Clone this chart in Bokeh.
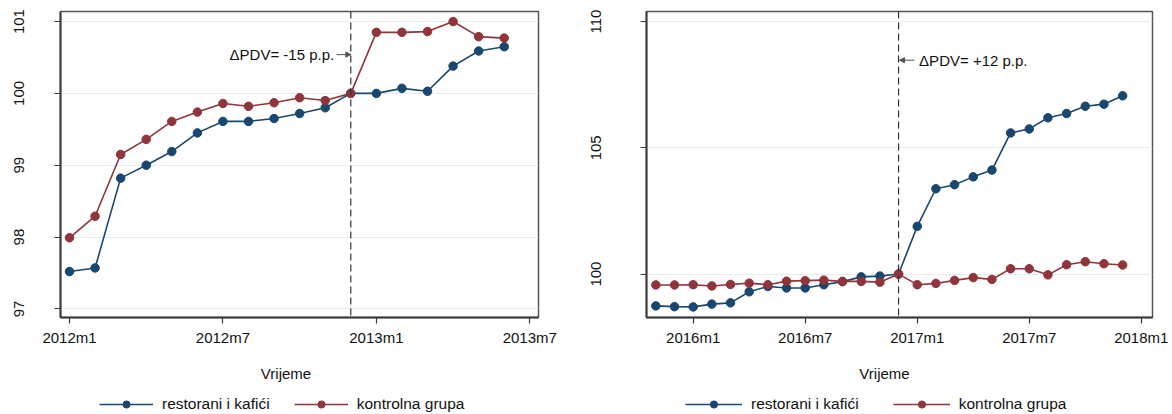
from bokeh.plotting import figure
from bokeh.layouts import row, column
from bokeh.models import (ColumnDataSource, FixedTicker, Span, Label, Legend,
                          LegendItem, Arrow, NormalHead, Range1d)
from bokeh.embed import file_html
from bokeh.resources import INLINE

# ---------------- data ----------------
left_periods = ["2012m1", "2012m2", "2012m3", "2012m4", "2012m5", "2012m6",
                "2012m7", "2012m8", "2012m9", "2012m10", "2012m11", "2012m12",
                "2013m1", "2013m2", "2013m3", "2013m4", "2013m5", "2013m6"]
left_restorani = [97.52, 97.57, 98.82, 99.00, 99.19, 99.45, 99.61, 99.61, 99.65,
                  99.72, 99.80, 100.00, 100.00, 100.07, 100.03, 100.38, 100.59, 100.65]
left_kontrolna = [97.99, 98.29, 99.15, 99.36, 99.61, 99.74, 99.86, 99.82, 99.87,
                  99.94, 99.90, 100.00, 100.85, 100.85, 100.86, 101.00, 100.79, 100.77]
left_xticks = ["2012m1", "2012m7", "2013m1", "2013m7"]
left_yticks = [97, 98, 99, 100, 101]
left_event = "2012m12"
left_note = "ΔPDV= -15 p.p."

right_periods = ["2015m11", "2015m12",
                 "2016m1", "2016m2", "2016m3", "2016m4", "2016m5", "2016m6",
                 "2016m7", "2016m8", "2016m9", "2016m10", "2016m11", "2016m12",
                 "2017m1", "2017m2", "2017m3", "2017m4", "2017m5", "2017m6",
                 "2017m7", "2017m8", "2017m9", "2017m10", "2017m11", "2017m12"]
right_restorani = [98.74, 98.71, 98.70, 98.81, 98.86, 99.30, 99.51, 99.45, 99.45,
                   99.58, 99.70, 99.89, 99.92, 100.00, 101.89, 103.38, 103.54, 103.85,
                   104.12, 105.59, 105.75, 106.19, 106.36, 106.65, 106.73, 107.06]
right_kontrolna = [99.57, 99.57, 99.58, 99.53, 99.59, 99.64, 99.58, 99.72, 99.74,
                   99.76, 99.71, 99.71, 99.68, 100.00, 99.58, 99.63, 99.75, 99.86,
                   99.79, 100.21, 100.21, 99.97, 100.37, 100.49, 100.41, 100.36]
right_xticks = ["2016m1", "2016m7", "2017m1", "2017m7", "2018m1"]
right_yticks = [100, 105, 110]
right_event = "2016m12"
right_note = "ΔPDV= +12 p.p."

series_names = ["restorani i kafići", "kontrolna grupa"]
x_title = "Vrijeme"

NAVY = "#1a476f"
MAROON = "#90353b"
FONT = "Liberation Sans"
TXT = "#111111"
W = 586
H_PLOT = 355
H_FOOT = 59
NAN = float("nan")


def month_index(label, base):
    y, m = label.split("m")
    by, bm = base.split("m")
    return (int(y) - int(by)) * 12 + (int(m) - int(bm))


def make_panel(periods, s1, s2, xticks, yticks, event, note, note_side,
               xr, yr, mbl, mbr, y_standoff, note_y, title_x, legend_x,
               spacing, glyph_w):
    base = xticks[0]
    xs = [month_index(p, base) for p in periods]
    p = figure(width=W, height=H_PLOT, x_range=xr, y_range=yr,
               output_backend="svg", toolbar_location=None,
               min_border_left=mbl, min_border_right=mbr, min_border_top=11,
               min_border_bottom=H_PLOT - 11 - 306, background_fill_color="white",
               border_fill_color="white")
    p.outline_line_color = "#555555"
    p.outline_line_width = 1.5
    p.xgrid.visible = False
    p.ygrid.grid_line_color = "#e4edef"
    p.ygrid.grid_line_width = 1.2

    tick_pos = [month_index(t, base) for t in xticks]
    p.xaxis.ticker = FixedTicker(ticks=tick_pos)
    p.xaxis.major_label_overrides = {tp: t for tp, t in zip(tick_pos, xticks)}
    p.yaxis.ticker = FixedTicker(ticks=yticks)
    p.yaxis.major_label_overrides = {v: str(v) for v in yticks}
    for ax in (p.xaxis, p.yaxis):
        ax.axis_line_color = "#3a3a3a"
        ax.axis_line_width = 2
        ax.major_tick_line_color = "#3a3a3a"
        ax.major_tick_line_width = 1.2
        ax.major_tick_out = 6
        ax.major_tick_in = 0
        ax.minor_tick_line_color = None
        ax.major_label_text_font = FONT
        ax.major_label_text_font_size = "15px"
        ax.major_label_text_color = TXT
    p.xaxis.major_label_standoff = 5
    p.yaxis.major_label_orientation = "vertical"
    p.yaxis.major_label_standoff = y_standoff

    ev = month_index(event, base)
    p.add_layout(Span(location=ev, dimension="height", line_color="#333333",
                      line_width=1.2, line_dash="7 4"))

    src = ColumnDataSource(dict(x=xs, a=s1, b=s2))
    p.line("x", "a", source=src, line_color=NAVY, line_width=1.6)
    p.scatter("x", "a", source=src, size=8.5, fill_color=NAVY, line_color=NAVY)
    p.line("x", "b", source=src, line_color=MAROON, line_width=1.6)
    p.scatter("x", "b", source=src, size=8.5, fill_color=MAROON, line_color=MAROON)

    # annotation with arrow pointing at the event line
    if note_side == "left":
        p.add_layout(Arrow(x_start=ev - 0.55, y_start=note_y, x_end=ev, y_end=note_y,
                           line_color="#555555", line_width=1,
                           end=NormalHead(size=5, line_color="#555555",
                                          fill_color="#555555")))
        p.add_layout(Label(x=ev - 0.65, y=note_y, text=note, text_align="right",
                           text_baseline="middle", text_font=FONT,
                           text_font_size="15px", text_color=TXT))
    else:
        p.add_layout(Arrow(x_start=ev + 0.85, y_start=note_y, x_end=ev + 0.05, y_end=note_y,
                           line_color="#555555", line_width=1,
                           end=NormalHead(size=5, line_color="#555555",
                                          fill_color="#555555")))
        p.add_layout(Label(x=ev + 1.1, y=note_y, text=note, text_align="left",
                           text_baseline="middle", text_font=FONT,
                           text_font_size="15px", text_color=TXT))

    # footer: axis title + legend (frame is aligned with the plot frame above)
    f = figure(width=W, height=H_FOOT, x_range=Range1d(0, 1), y_range=Range1d(0, 1),
               output_backend="svg", toolbar_location=None,
               min_border_left=0, min_border_right=0, min_border_top=0,
               min_border_bottom=0, x_axis_location=None, y_axis_location=None,
               outline_line_color=None, background_fill_color="white",
               border_fill_color="white")
    f.xgrid.visible = False
    f.ygrid.visible = False
    f.add_layout(Label(x=title_x, y=41, x_units="screen", y_units="screen",
                       text=x_title, text_align="center", text_baseline="middle",
                       text_font=FONT, text_font_size="15px", text_color=TXT))
    empty = ColumnDataSource(dict(x=[NAN], y=[NAN]))
    r1 = f.line("x", "y", source=empty, line_color=NAVY, line_width=1.6)
    s1r = f.scatter("x", "y", source=empty, size=8, fill_color=NAVY, line_color=NAVY)
    r2 = f.line("x", "y", source=empty, line_color=MAROON, line_width=1.6)
    s2r = f.scatter("x", "y", source=empty, size=8, fill_color=MAROON, line_color=MAROON)
    legend = Legend(items=[LegendItem(label=series_names[0], renderers=[r1, s1r]),
                           LegendItem(label=series_names[1], renderers=[r2, s2r])],
                    orientation="horizontal", location=(legend_x, 1),
                    padding=0, margin=0, spacing=spacing,
                    glyph_width=glyph_w, glyph_height=18, label_standoff=9,
                    border_line_alpha=0, background_fill_alpha=0,
                    label_text_font=FONT, label_text_font_size="15.5px",
                    label_text_color=TXT)
    f.add_layout(legend, "center")
    return column(p, f, spacing=0)


left = make_panel(left_periods, left_restorani, left_kontrolna, left_xticks,
                  left_yticks, left_event, left_note, "left",
                  (-0.352, 18.34), (96.88, 101.14), 60, 48, 30, 100.54,
                  225.5, 39, 24, 54)
right = make_panel(right_periods, right_restorani, right_kontrolna, right_xticks,
                   right_yticks, right_event, right_note, "right",
                   (-2.50, 24.60), (98.28, 110.40), 60, 20, 39, 108.47,
                   238, 39, 34, 57)

layout = row(left, right, spacing=0)
open("out.html", "w").write(file_html(layout, INLINE))
